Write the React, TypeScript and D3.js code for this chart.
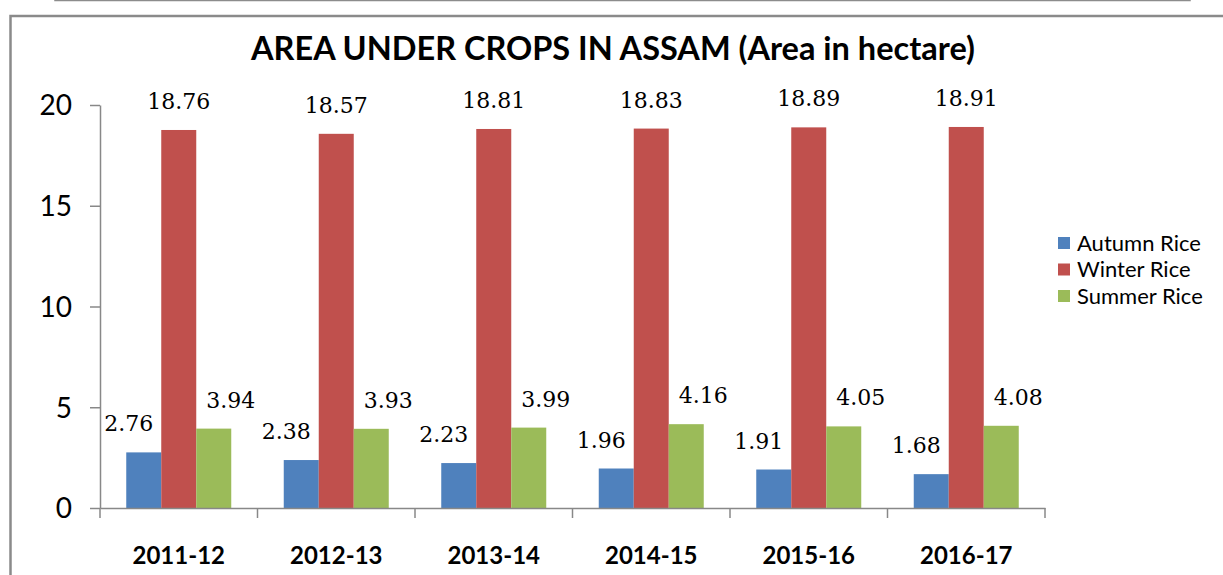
import { useEffect, useRef } from "react";
import * as d3 from "d3";

const YEARS = ["2011-12", "2012-13", "2013-14", "2014-15", "2015-16", "2016-17"];
const SERIES = ["Autumn Rice", "Winter Rice", "Summer Rice"];
const AUTUMN = [2.76, 2.38, 2.23, 1.96, 1.91, 1.68];
const WINTER = [18.76, 18.57, 18.81, 18.83, 18.89, 18.91];
const SUMMER = [3.94, 3.93, 3.99, 4.16, 4.05, 4.08];
const Y_TICKS = [0, 5, 10, 15, 20];
const COLORS = ["#4F81BD", "#C0504D", "#9BBB59"];
// Excel labels were nudged sideways off the bar centres
const LABEL_DX = [-15, 0, 17];

export default function App() {
  const svgRef = useRef<SVGSVGElement>(null);

  useEffect(() => {
    if (!svgRef.current) return;
    const svg = d3.select(svgRef.current);
    svg.selectAll("*").remove();

    const width = 1223;
    const height = 575;
    const margin = { left: 100, right: 178, top: 105, bottom: 67 };
    const values = [AUTUMN, WINTER, SUMMER];

    // frame of the box above and the chart border
    svg.append("path")
      .attr("d", "M55,-5V0.5H1190V-5")
      .attr("fill", "none")
      .attr("stroke", "#8c8c8c")
      .attr("stroke-width", 1.5);
    svg.append("rect")
      .attr("x", 10.5).attr("y", 16)
      .attr("width", 1230).attr("height", 600)
      .attr("fill", "white")
      .attr("stroke", "#8a8a8a")
      .attr("stroke-width", 2.5);

    const x = d3.scaleBand<string>()
      .domain(YEARS)
      .range([margin.left, width - margin.right]);

    const inner = d3.scaleBand<string>()
      .domain(SERIES)
      .range([0, x.bandwidth()])
      .paddingOuter(0.75);

    const y = d3.scaleLinear()
      .domain([0, 20])
      .range([height - margin.bottom, margin.top]);

    // title
    svg.append("text")
      .attr("x", 613).attr("y", 60)
      .attr("text-anchor", "middle")
      .attr("font-family", "Lato, sans-serif")
      .attr("font-weight", "bold")
      .attr("font-size", "32.5px")
      .attr("fill", "#000")
      .text("AREA UNDER CROPS IN ASSAM (Area in hectare)");

    // y axis
    svg.append("g")
      .attr("transform", `translate(${margin.left},0)`)
      .call(d3.axisLeft(y).tickValues(Y_TICKS).tickSize(10).tickPadding(18).tickSizeOuter(0))
      .call((g) => {
        g.select(".domain").attr("stroke", "#888").attr("stroke-width", 1.5);
        g.selectAll(".tick line").attr("stroke", "#888").attr("stroke-width", 1.5);
        g.selectAll(".tick text")
          .attr("fill", "#000")
          .attr("font-family", "Lato, sans-serif")
          .attr("font-size", "28px")
          .attr("dy", "0.35em");
      });

    // bars
    values.forEach((vals, si) => {
      svg.append("g")
        .selectAll("rect")
        .data(vals)
        .join("rect")
        .attr("x", (_, i) => x(YEARS[i])! + inner(SERIES[si])!)
        .attr("y", (d) => y(d))
        .attr("width", inner.bandwidth())
        .attr("height", (d) => y(0) - y(d))
        .attr("fill", COLORS[si]);
    });

    // x axis
    svg.append("g")
      .attr("transform", `translate(0,${y(0)})`)
      .call(d3.axisBottom(x).tickSize(0).tickPadding(39))
      .call((g) => {
        g.select(".domain").attr("stroke", "#888").attr("stroke-width", 1.5);
        g.selectAll(".tick text")
          .attr("fill", "#000")
          .attr("font-family", "Lato, sans-serif")
          .attr("font-weight", "bold")
          .attr("font-size", "24px");
      });

    // category boundary ticks
    svg.append("g")
      .selectAll("line")
      .data([...YEARS.map((yr) => x(yr)!), x.range()[1]])
      .join("line")
      .attr("x1", (d) => d).attr("x2", (d) => d)
      .attr("y1", y(0)).attr("y2", y(0) + 10)
      .attr("stroke", "#888")
      .attr("stroke-width", 1.5);

    // data labels
    values.forEach((vals, si) => {
      svg.append("g")
        .selectAll("text")
        .data(vals)
        .join("text")
        .attr("x", (_, i) => x(YEARS[i])! + inner(SERIES[si])! + inner.bandwidth() / 2 + LABEL_DX[si])
        .attr("y", (d) => y(d) - 21)
        .attr("text-anchor", "middle")
        .attr("font-family", "'DejaVu Serif', serif")
        .attr("font-size", "22px")
        .attr("fill", "#000")
        .text((d) => d.toFixed(2));
    });

    // legend
    const legend = svg.append("g").attr("transform", "translate(1058,243)");
    SERIES.forEach((s, i) => {
      const row = legend.append("g").attr("transform", `translate(0,${i * 26.5})`);
      row.append("rect")
        .attr("x", 0).attr("y", -6)
        .attr("width", 12).attr("height", 12)
        .attr("fill", COLORS[i]);
      row.append("text")
        .attr("x", 19).attr("y", 0)
        .attr("dy", "0.35em")
        .attr("font-family", "Lato, sans-serif")
        .attr("font-size", "22px")
        .attr("fill", "#000")
        .text(s);
    });
  }, []);

  return (
    <svg
      ref={svgRef}
      width={1223}
      height={575}
      style={{ position: "absolute", left: 0, top: 0, background: "white" }}
    />
  );
}
